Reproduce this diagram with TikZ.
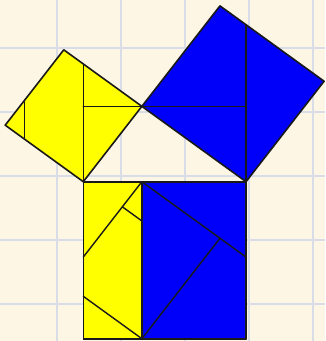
\documentclass[tikz,border=0pt]{standalone}
\definecolor{bg}{RGB}{253,246,228}
\definecolor{gridc}{RGB}{216,221,232}
\definecolor{yel}{RGB}{255,255,0}
\definecolor{blu}{RGB}{0,0,250}
\tikzset{
  piece/.style={draw=black!90, line width=1.6pt, line join=round},
  cut/.style={draw=black!90, line width=1.4pt, line cap=round},
  gridline/.style={draw=gridc, line width=2.6pt}
}
\begin{document}
\begin{tikzpicture}[x=1pt,y=-1pt]
\fill[bg] (0,0) rectangle (325,341);
\useasboundingbox (0,0) rectangle (325,341);
\foreach \g in {0,...,4} {
  \draw[gridline] (56.8+64*\g,0) -- (56.8+64*\g,341);
  \draw[gridline] (0,47.8+64*\g) -- (325,47.8+64*\g);
}
\begin{scope}[shift={(83.3,181.7)}, x=32.54pt, y=31.4pt]
  % triangle vertices and square corners
  \coordinate (A) at (0,0);
  \coordinate (B) at (5,0);
  \coordinate (C) at (1.8,2.4);
  \coordinate (D) at (-0.6,4.2);
  \coordinate (E) at (-2.4,1.8);
  \coordinate (F) at (4.2,5.6);
  \coordinate (G) at (7.4,3.2);
  \coordinate (H) at (1.8,-5);
  \coordinate (K) at (0,-5);
  \coordinate (L) at (5,-5);
  % yellow square on AC
  \filldraw[piece, fill=yel] (A) -- (C) -- (D) -- (E) -- cycle;
  \coordinate (y1) at (0,3.75);
  \coordinate (y2) at (0,2.4);
  \coordinate (y3) at (-1.8,2.6);
  \coordinate (y4) at (-1.8,1.35);
  \draw[cut] (A) -- (y1);
  \draw[cut] (y2) -- (C);
  \draw[cut] (y3) -- (y4);
  % blue square on CB
  \filldraw[piece, fill=blu] (C) -- (B) -- (G) -- (F) -- cycle;
  \coordinate (b1) at (5,5);
  \coordinate (b2) at (5,2.4);
  \coordinate (b0) at (1.8,0);
  \draw[cut] (B) -- (b1);
  \draw[cut] (C) -- (b2);
  % square on the hypotenuse
  \filldraw[piece, fill=yel] (A) -- (b0) -- (H) -- (K) -- cycle;
  \filldraw[piece, fill=blu] (b0) -- (B) -- (L) -- (H) -- cycle;
  \coordinate (p1) at (0,-2.4);
  \coordinate (p2) at (1.2,-0.8);
  \coordinate (p3) at (1.8,-1.25);
  \coordinate (p4) at (0,-3.65);
  \coordinate (q1) at (5,-2.4);
  \coordinate (q2) at (4.2,-1.8);
  \draw[cut] (b0) -- (p1);
  \draw[cut] (p2) -- (p3);
  \draw[cut] (p4) -- (H);
  \draw[cut] (b0) -- (q1);
  \draw[cut] (q2) -- (H);
  \draw[piece] (A) -- (B) -- (L) -- (K) -- cycle;
\end{scope}
\end{tikzpicture}
\end{document}
